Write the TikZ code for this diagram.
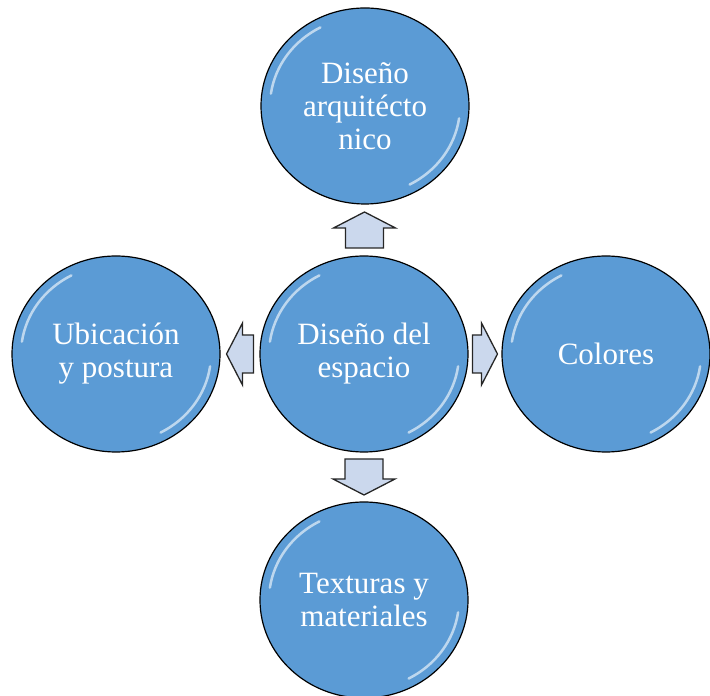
\documentclass[tikz,border=0pt]{standalone}
\usepackage{fontspec}
\setmainfont{Liberation Serif}
\usetikzlibrary{shapes}
\usetikzlibrary{calc}
\definecolor{circblue}{RGB}{91,155,213}
\definecolor{arrblue}{RGB}{203,216,237}
\tikzset{
    mynodeb/.style = {ellipse, line width=1.2pt, draw=black, align=center, fill=circblue, text=white, minimum width=208pt, minimum height=196pt, inner sep=0pt, font=\fontsize{31}{33}\selectfont},
    blockarr/.style = {line width=1.3pt, draw=black!85, fill=arrblue, line join=miter},
    gloss/.style = {white, opacity=0.6, line width=2.5pt, line cap=round}
}
% block arrow: centre, direction, length
\newcommand{\blockarrow}[3]{%
  \draw[blockarr, shift={(#1)}, rotate=#2] (-#3/2,-19) -- (#3/2-16,-19) -- (#3/2-16,-31) -- (#3/2,0)
    -- (#3/2-16,31) -- (#3/2-16,19) -- (-#3/2,19) -- cycle;}
\begin{document}
\begin{tikzpicture}[x=1pt,y=1pt]
\useasboundingbox (0,0) rectangle (710,696);
%
\node[mynodeb] at (364, 342) (sp) {Diseño del\\espacio};
\node[mynodeb] at (365, 590) (arq) {Diseño\\arquitécto\\nico};
\node[mynodeb] at (116, 342) (ubi) {Ubicación\\y postura};
\node[mynodeb] at (606, 342) (col) {Colores};
\node[mynodeb] at (364, 96) (tex) {Texturas y\\materiales};
%
\foreach \n in {sp,arq,ubi,col,tex} {
  \draw[gloss] ($(\n.center)+(118:95 and 89)$) arc[start angle=118, end angle=172, x radius=95, y radius=89];
  \draw[gloss] ($(\n.center)+(-62:95 and 89)$) arc[start angle=-62, end angle=-8, x radius=95, y radius=89];
}
%
\coordinate (m1) at ($(sp.north)!0.5!(arq.south)$);
\coordinate (m2) at ($(sp.east)!0.5!(col.west)$);
\coordinate (m3) at ($(sp.south)!0.5!(tex.north)$);
\coordinate (m4) at ($(sp.west)!0.5!(ubi.east)$);
\blockarrow{m1}{90}{36}
\blockarrow{m2}{0}{25}
\blockarrow{m3}{270}{36}
\blockarrow{m4}{180}{27}

\end{tikzpicture}
\end{document}
